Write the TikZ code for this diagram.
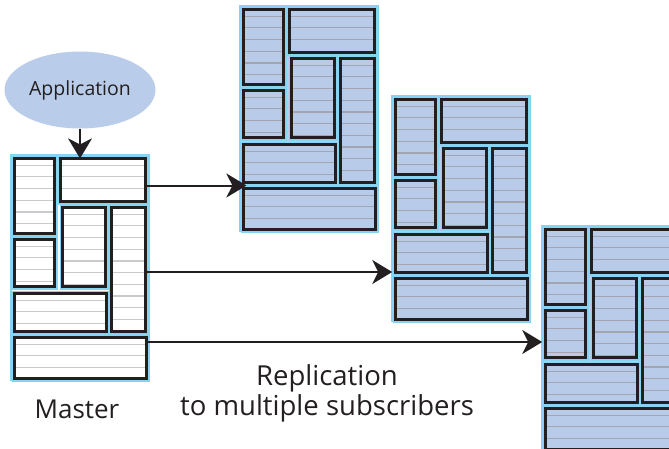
\documentclass[tikz,border=0pt]{standalone}
\usepackage{fontspec}
\setmainfont{Open Sans}
\usetikzlibrary{shapes.geometric,arrows.meta,calc}
\definecolor{subfill}{HTML}{B8CCEA}
\definecolor{edgecyan}{HTML}{86D3F2}
\definecolor{inkblack}{HTML}{231F20}
\definecolor{mstripe}{HTML}{CACACE}
\definecolor{sstripe}{HTML}{A3A6B2}
\definecolor{appfill}{HTML}{B9CDEA}
\tikzset{
  blk/.style={rectangle, anchor=north west, inner sep=0pt, outer sep=0pt,
    draw=inkblack, line width=2.8pt, fill=cellfill,
    preaction={draw=edgecyan, line width=5.8pt},
    path picture={\foreach \k [evaluate=\k as \yy using {-(\k*11.7-4.95)}] in {1,...,20}{%
      \draw[stripe, line width=1.2pt] ([xshift=-5pt,yshift=\yy pt]path picture bounding box.north west) -- ++(200pt,0pt);}}},
  frame/.style={rectangle, anchor=north west, inner sep=0pt, outer sep=0pt,
    draw=edgecyan, line width=2.4pt, fill=cellfill},
  conn/.style={draw=inkblack, line width=2pt, -{Stealth[length=20pt,width=24pt,inset=6pt]}},
  lbl/.style={font=\fontsize{26}{30}\selectfont, text=inkblack, inner sep=0pt, anchor=base},
  replbl/.style={lbl, font=\fontsize{27.5}{32}\selectfont}
}
\newcommand\dbset[5]{%
  \begin{scope}[shift={(#2,#3)}]
  \colorlet{cellfill}{#4}\colorlet{stripe}{#5}
  \node[frame, minimum width=137.6pt, minimum height=224.6pt] (#1) at (1.2,1.2) {};
  \node[blk, minimum width=40.2pt, minimum height=75.2pt] (#1-A) at (4.4,4.4) {};
  \node[blk, minimum width=85.2pt, minimum height=43.2pt] (#1-B) at (50.4,4.4) {};
  \node[blk, minimum width=40.2pt, minimum height=47.2pt] (#1-C) at (4.4,85.4) {};
  \node[blk, minimum width=43.2pt, minimum height=79.2pt] (#1-D) at (52.4,53.4) {};
  \node[blk, minimum width=34.2pt, minimum height=124.2pt] (#1-E) at (101.4,53.4) {};
  \node[blk, minimum width=92.2pt, minimum height=38.2pt] (#1-F) at (4.4,139.4) {};
  \node[blk, minimum width=132.2pt, minimum height=41.2pt] (#1-G) at (4.4,183.4) {};
  \end{scope}}
\begin{document}
\begin{tikzpicture}[x=1pt,y=-1pt]
\useasboundingbox (0,0) rectangle (669,448);
\clip (0,0) rectangle (669,448);
\fill[white] (0,0) rectangle (669,448);
\dbset{s1}{239}{5}{subfill}{sstripe}
\dbset{s2}{391}{95}{subfill}{sstripe}
\dbset{s3}{541}{225}{subfill}{sstripe}
\dbset{m}{10}{154}{white}{mstripe}
\node[ellipse, fill=appfill, minimum width=151pt, minimum height=77pt, inner sep=0pt,
  font=\fontsize{19.5}{23}\selectfont, text=inkblack] (app) at (80,90) {Application};
\draw[conn] (app.south) -- (app.south |- m-B.north);
\coordinate (t1) at ($(s1-F.south west)!0.5!(s1-G.north west)+(3,0)$);
\draw[conn] (m-B.east |- t1) -- (t1);
\draw[conn] ([yshift=-2.5pt]m-E.east) -- ([yshift=-2.5pt]m-E.east -| s2.west);
\draw[conn] ([yshift=16pt]m-G.east) -- ([yshift=16pt]m-G.east -| s3.west);
\node[lbl] (mlabel) at (77,418) {Master};
\node[replbl] (rep1) at (327,385) {Replication};
\node[replbl] (rep2) at (327,415) {to multiple subscribers};
\end{tikzpicture}
\end{document}
